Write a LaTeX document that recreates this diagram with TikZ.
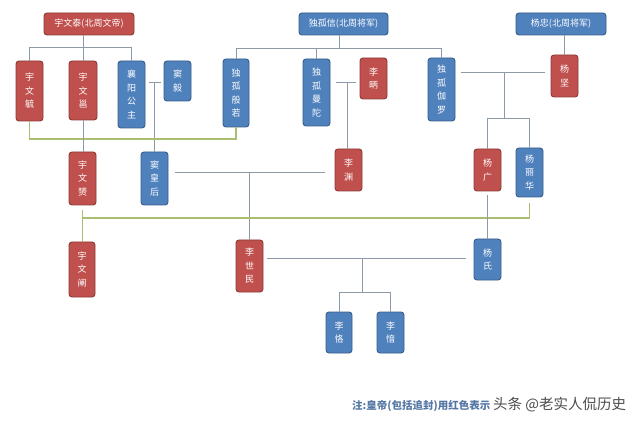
\documentclass[tikz,border=0pt]{standalone}
\usepackage{fontspec}
\setmainfont{Noto Sans CJK SC}
\definecolor{rfill}{HTML}{C0504D}
\definecolor{rdraw}{HTML}{8C3A38}
\definecolor{bfill}{HTML}{4F81BD}
\definecolor{bdraw}{HTML}{385D8A}
\definecolor{lgray}{HTML}{8C99A6}
\definecolor{lgreen}{HTML}{A9BE6E}
\definecolor{notec}{HTML}{5577A5}
\tikzset{
  box/.style={rounded corners=3pt, line width=0.9pt, text=white, align=center,
    inner sep=0pt, font=\fontsize{9}{13.5}\selectfont},
  redbox/.style={box, fill=rfill, draw=rdraw},
  bluebox/.style={box, fill=bfill, draw=bdraw},
  vb/.style 2 args={minimum width=#1pt, minimum height=#2pt},
  conn/.style={draw=lgray, line width=1pt},
  marr/.style={draw=lgreen, line width=1.2pt},
}
\begin{document}
\begin{tikzpicture}[x=1pt,y=-1pt]
\useasboundingbox[fill=white] (0,0) rectangle (640,422);
% top row
\node[redbox, vb={90}{22}] (wt) at (89,24) {宇文泰(北周文帝)};
\node[bluebox, vb={89}{22}] (dgx) at (343.5,24) {独孤信(北周将军)};
\node[bluebox, vb={90}{22}] (yz) at (561,24) {杨忠(北周将军)};
% second row
\node[redbox, vb={27}{60}] (ywy) at (29.5,91) {宇\\文\\毓};
\node[redbox, vb={28}{59}] (ywyong) at (83,90.5) {宇\\文\\邕};
\node[bluebox, vb={27}{67}] (xy) at (131.5,94.5) {襄\\阳\\公\\主};
\node[bluebox, vb={27}{40}] (dy) at (177.5,81) {窦\\毅};
\node[bluebox, vb={26}{68}] (brr) at (236,93) {独\\孤\\般\\若};
\node[bluebox, vb={27}{67}] (mt) at (316.5,92.5) {独\\孤\\曼\\陀};
\node[redbox, vb={27}{41}] (lb) at (373.5,78.5) {李\\昞};
\node[bluebox, vb={27}{63}] (jl) at (441.5,89.5) {独\\孤\\伽\\罗};
\node[redbox, vb={27}{42}] (yj) at (564.5,76) {杨\\坚};
% third row
\node[redbox, vb={27}{53}] (ywyun) at (82.5,178.5) {宇\\文\\赟};
\node[bluebox, vb={27}{53}] (dhh) at (154.5,178.5) {窦\\皇\\后};
\node[redbox, vb={27}{42}] (ly) at (348.5,170) {李\\渊};
\node[redbox, vb={27}{42}] (yg) at (487.5,170) {杨\\广};
\node[bluebox, vb={27}{49}] (ylh) at (529.5,172.5) {杨\\丽\\华};
% fourth row
\node[redbox, vb={26}{55}] (ywc) at (82,269.5) {宇\\文\\阐};
\node[redbox, vb={27}{52}] (lsm) at (249.5,266) {李\\世\\民};
\node[bluebox, vb={27}{41}] (ys) at (487.5,259.5) {杨\\氏};
% fifth row
\node[bluebox, vb={26}{41}] (lk) at (339,332.5) {李\\恪};
\node[bluebox, vb={27}{41}] (lyin) at (390.5,332.5) {李\\愔};

% helper coordinates
\coordinate (wtb) at (83,48);
\coordinate (dgb) at (339,49);
\coordinate (m1) at (154.5,83);
\coordinate (m2) at (347,83);
\coordinate (m3) at (504,73);
\coordinate (m3b) at (504,119);
\coordinate (g1) at (0,139);
\coordinate (m4) at (249.5,173);
\coordinate (g2) at (0,218);
\coordinate (m5) at (362,259);
\coordinate (m5b) at (362,292);

% 宇文泰 children
\draw[conn] (wt.south -| wtb) -- (wtb);
\draw[conn] (ywy.north) -- (ywy.north |- wtb) -- (xy.north |- wtb) -- (xy.north);
\draw[conn] (ywyong.north) -- (ywyong.north |- wtb);
% 独孤信 children
\draw[conn] (dgx.south -| dgb) -- (dgb);
\draw[conn] (brr.north) -- (brr.north |- dgb) -- (jl.north |- dgb) -- (jl.north);
\draw[conn] (mt.north) -- (mt.north |- dgb);
% 杨忠 -> 杨坚
\draw[conn] (yz.south -| yj) -- (yj.north);
% 襄阳公主 - 窦毅
\draw[conn] ([xshift=4pt]xy.east |- m1) -- ([xshift=-3pt]dy.west |- m1);
\draw[conn] (m1) -- (dhh.north);
% 独孤曼陀 - 李昞
\draw[conn] ([xshift=6pt]mt.east |- m2) -- ([xshift=-4pt]lb.west |- m2);
\draw[conn] (m2) -- (m2 |- ly.north);
% 独孤伽罗 - 杨坚
\draw[conn] ([xshift=6pt]jl.east |- m3) -- ([xshift=-6pt]yj.west |- m3);
\draw[conn] (m3) -- (m3b);
\draw[conn] (yg.north) -- (yg.north |- m3b) -- (ylh.north |- m3b) -- (ylh.north);
% green marriage 宇文毓 - 独孤般若
\draw[marr] (ywy.south) -- (ywy.south |- g1) -- (brr.south |- g1) -- (brr.south);
% 宇文邕 -> 宇文赟
\draw[conn] (ywyong.south) -- (ywyong.south |- ywyun.north);
% 窦皇后 - 李渊
\draw[conn] ([xshift=7pt]dhh.east |- m4) -- ([xshift=-10pt]ly.west |- m4);
\draw[conn] (m4) -- (lsm.north);
% green marriage 宇文赟 - 杨丽华
\draw[marr] ([yshift=-5pt]ywyun.south) -- (ywc.north -| ywyun.south);
\draw[marr] (ywyun.south |- g2) -- (ylh.south |- g2) -- ([yshift=-6pt]ylh.south);
% 杨广 -> 杨氏
\draw[conn] ([yshift=-4pt]yg.south) -- (ys.north);
% 李世民 - 杨氏
\draw[conn] ([xshift=4pt]lsm.east |- m5) -- ([xshift=-8pt]ys.west |- m5);
\draw[conn] (m5) -- (m5b);
\draw[conn] (lk.north) -- (lk.north |- m5b) -- (lyin.north |- m5b) -- (lyin.north);

% note and watermark
\node[anchor=base west, inner sep=0pt, text=notec, font=\fontsize{10.5}{12}\selectfont\bfseries] (note) at (352,409) {注:皇帝(包括追封)用红色表示};
\node[anchor=base west, inner sep=0pt, text=black!70, font=\fontsize{14.5}{17}\selectfont] (wm) at (493,409) {头条 @老实人侃历史};
\end{tikzpicture}
\end{document}
